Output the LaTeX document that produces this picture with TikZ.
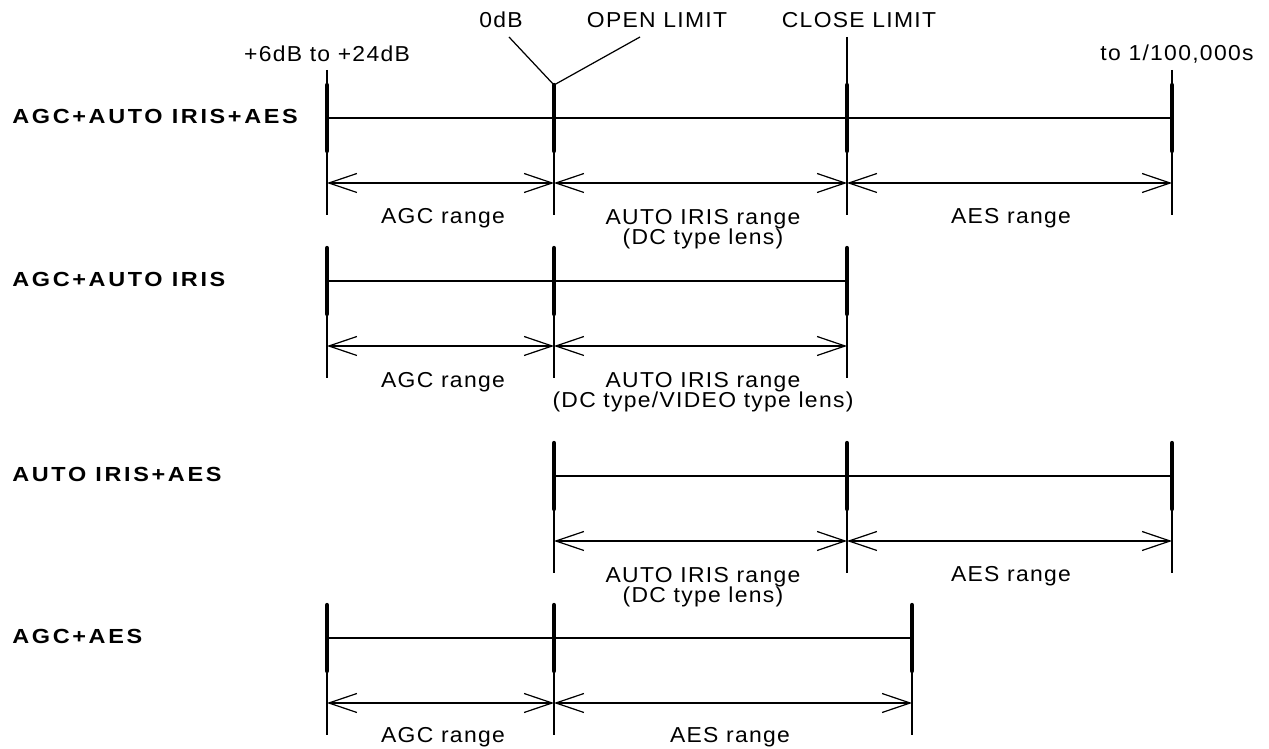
\documentclass[tikz,border=0pt]{standalone}
\usepackage{fontspec}
\setmainfont{Liberation Sans}[FakeStretch=1.06,LetterSpace=6]
\newfontfamily\rowfont{Liberation Sans}[FakeStretch=1.15,LetterSpace=13]
\usetikzlibrary{arrows.meta}

\begin{document}
\begin{tikzpicture}[x=0.02cm,y=-0.02cm,
  thinline/.style={line width=0.7pt},
  tickbar/.style={line width=2.4pt,line cap=round},
  dimline/.style={line width=0.7pt,{Straight Barb[length=5.6mm,width=3.8mm]}-{Straight Barb[length=5.6mm,width=3.8mm]}},
  rowlabel/.style={anchor=base west,inner sep=0pt,font=\rowfont\bfseries\fontsize{11.6}{14}\selectfont},
  txt/.style={inner sep=0pt,align=center,font=\fontsize{12.3}{11.6}\selectfont}]
\useasboundingbox (0,0) rectangle (1269,749);

% top labels
\node[txt,anchor=base] (gain)  at (327,62)  {+6dB to +24dB};
\node[txt,anchor=base] (zero)  at (501,28)  {0dB};
\node[txt,anchor=base] (open)  at (657,28)  {OPEN LIMIT};
\node[txt,anchor=base] (close) at (859,28)  {CLOSE LIMIT};
\node[txt,anchor=base] (shut)  at (1177,61) {to 1/100,000s};

% AGC+AUTO IRIS+AES
\node[rowlabel] (row1) at (12,124) {AGC+AUTO IRIS+AES};
\coordinate (a1) at (327,118);  \coordinate (b1) at (554,118);
\coordinate (c1) at (847,118);  \coordinate (e1) at (1172,118);
\draw[thinline] (a1) -- (e1);
\draw[thinline] (a1) ++(0,-48) -- ++(0,145);
\draw[thinline] (b1) -- ++(0,97);
\draw[thinline] (c1) ++(0,-81) -- ++(0,178);
\draw[thinline] (e1) ++(0,-48) -- ++(0,145);
\foreach \p in {a1,b1,c1,e1} \draw[tickbar] (\p) ++(0,-33) -- ++(0,66);
\coordinate (z0) at (509,37);  \coordinate (z1) at (640,37);
\coordinate (bt1) at (554,85);
\draw[thinline] (z0) -- (bt1) -- (z1);
\coordinate (da1) at (327,183);  \coordinate (db1) at (554,183);
\coordinate (dc1) at (847,183);  \coordinate (de1) at (1172,183);
\draw[dimline] (da1) -- (db1);
\draw[dimline] (db1) -- (dc1);
\draw[dimline] (dc1) -- (de1);
\node[txt,anchor=base]  (agc1)  at (443,224) {AGC range};
\node[txt,anchor=north] (iris1) at (703,209) {AUTO IRIS range\\(DC type lens)};
\node[txt,anchor=base]  (aes1)  at (1011,224) {AES range};

% AGC+AUTO IRIS
\node[rowlabel] (row2) at (12,287) {AGC+AUTO IRIS};
\coordinate (a2) at (327,281);  \coordinate (b2) at (554,281);
\coordinate (c2) at (847,281);
\draw[thinline] (a2) -- (c2);
\foreach \p in {a2,b2,c2} {
  \draw[thinline] (\p) -- ++(0,97);
  \draw[tickbar] (\p) ++(0,-33) -- ++(0,66);
}
\coordinate (da2) at (327,346);  \coordinate (db2) at (554,346);
\coordinate (dc2) at (847,346);
\draw[dimline] (da2) -- (db2);
\draw[dimline] (db2) -- (dc2);
\node[txt,anchor=base]  (agc2)  at (443,388) {AGC range};
\node[txt,anchor=north] (iris2) at (703,372) {AUTO IRIS range\\(DC type/VIDEO type lens)};

% AUTO IRIS+AES
\node[rowlabel] (row3) at (12,482) {AUTO IRIS+AES};
\coordinate (b3) at (554,476);  \coordinate (c3) at (847,476);
\coordinate (e3) at (1172,476);
\draw[thinline] (b3) -- (e3);
\foreach \p in {b3,c3,e3} {
  \draw[thinline] (\p) -- ++(0,97);
  \draw[tickbar] (\p) ++(0,-33) -- ++(0,66);
}
\coordinate (db3) at (554,541);  \coordinate (dc3) at (847,541);
\coordinate (de3) at (1172,541);
\draw[dimline] (db3) -- (dc3);
\draw[dimline] (dc3) -- (de3);
\node[txt,anchor=north] (iris3) at (703,567) {AUTO IRIS range\\(DC type lens)};
\node[txt,anchor=base]  (aes3)  at (1011,582) {AES range};

% AGC+AES
\node[rowlabel] (row4) at (12,644) {AGC+AES};
\coordinate (a4) at (327,638);  \coordinate (b4) at (554,638);
\coordinate (f4) at (912,638);
\draw[thinline] (a4) -- (f4);
\foreach \p in {a4,b4,f4} {
  \draw[thinline] (\p) -- ++(0,97);
  \draw[tickbar] (\p) ++(0,-33) -- ++(0,66);
}
\coordinate (da4) at (327,703);  \coordinate (db4) at (554,703);
\coordinate (df4) at (912,703);
\draw[dimline] (da4) -- (db4);
\draw[dimline] (db4) -- (df4);
\node[txt,anchor=base] (agc4) at (443,743) {AGC range};
\node[txt,anchor=base] (aes4) at (730,743) {AES range};
\end{tikzpicture}
\end{document}
